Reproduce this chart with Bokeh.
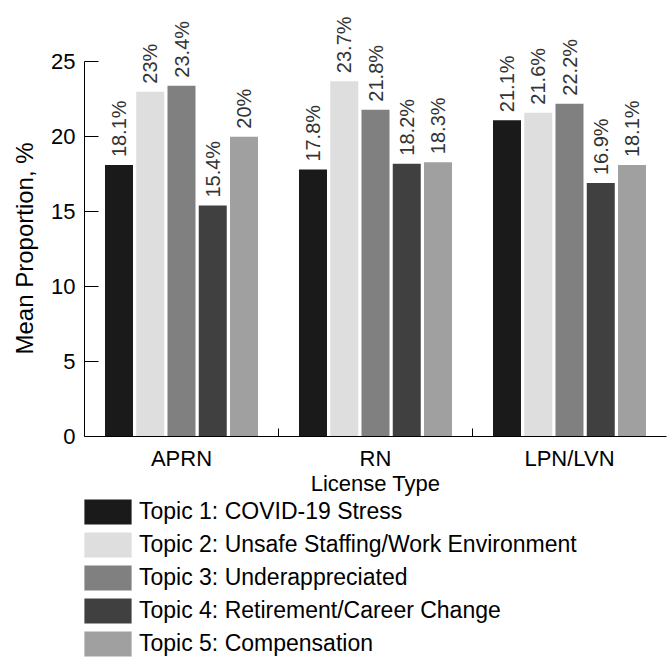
from math import pi
from bokeh.plotting import figure
from bokeh.layouts import column
from bokeh.models import (Range1d, LinearAxis, FixedTicker, Title,
                          SingleIntervalTicker, Legend, ColumnDataSource)
from bokeh.transform import dodge
from bokeh.core.properties import value
from bokeh.embed import file_html
from bokeh.resources import INLINE

# ---------------- data ----------------
licenses = ["APRN", "RN", "LPN/LVN"]
topic_names = [
    "Topic 1: COVID-19 Stress",
    "Topic 2: Unsafe Staffing/Work Environment",
    "Topic 3: Underappreciated",
    "Topic 4: Retirement/Career Change",
    "Topic 5: Compensation",
]
topic1 = [18.1, 17.8, 21.1]
topic2 = [23.0, 23.7, 21.6]
topic3 = [23.4, 21.8, 22.2]
topic4 = [15.4, 18.2, 16.9]
topic5 = [20.0, 18.3, 18.1]
x_title = "License Type"
y_title = "Mean Proportion, %"

# ---------------- styles ----------------
colors = ["#1a1a1a", "#dedede", "#808080", "#404040", "#a0a0a0"]
FONT = "Liberation Sans"
step = 0.1611
bar_w = 0.1443

n = len(licenses)
centers = [i + 0.5 for i in range(n)]       # group centre positions
bounds = [float(i) for i in range(1, n)]    # group boundaries

p = figure(width=672, height=498,
           x_range=Range1d(0, n),
           y_range=Range1d(0, 29.08),
           output_backend="svg", toolbar_location=None,
           x_axis_location=None, y_axis_location=None,
           min_border_left=84, min_border_right=6,
           min_border_top=0, min_border_bottom=56)
p.outline_line_color = None
p.grid.visible = False

# legend panel below the chart (same series, hidden, used as legend proxies)
lg = figure(width=672, height=160, x_range=Range1d(0, n), y_range=Range1d(0, 29.08),
            output_backend="svg", toolbar_location=None,
            x_axis_location=None, y_axis_location=None, min_border=0)
lg.outline_line_color = None
lg.grid.visible = False

series = [topic1, topic2, topic3, topic4, topic5]
items = []
for i, (name, vals, col) in enumerate(zip(topic_names, series, colors)):
    off = (i - (len(series) - 1) / 2) * step
    src = ColumnDataSource(dict(pos=centers, lic=licenses, val=vals,
                                lab=[f"{v:g}%" for v in vals]))
    p.vbar(x=dodge("pos", off), top="val", width=bar_w,
           source=src, fill_color=col, line_color=None)
    p.text(x=dodge("pos", off), y="val", text="lab",
           source=src, angle=pi / 2, text_align="left",
           text_baseline="middle", y_offset=-8,
           text_font=value(FONT), text_font_size="20px",
           text_color="#333333")
    proxy = lg.vbar(x=dodge("pos", off), top="val", width=bar_w,
                    source=src, fill_color=col, line_color=None,
                    visible=False)
    items.append((name, [proxy]))

# y axis
ya = LinearAxis(ticker=SingleIntervalTicker(interval=5), bounds=(0, 25),
                major_tick_in=14, major_tick_out=0,
                minor_tick_in=0, minor_tick_out=0,
                major_label_standoff=9,
                axis_line_color="black", major_tick_line_color="black",
                major_label_text_font=FONT, major_label_text_font_size="22px",
                major_label_text_color="black")
p.add_layout(ya, "left")
p.add_layout(Title(text=y_title, align="left", offset=82,
                   vertical_align="top", standoff=17,
                   text_font=FONT, text_font_size="24px",
                   text_font_style="normal", text_color="black"), "left")

# x axis (group labels at centres, ticks at group boundaries)
xa = LinearAxis(ticker=FixedTicker(ticks=centers, minor_ticks=bounds),
                major_label_overrides={c: l for c, l in zip(centers, licenses)},
                axis_label=x_title,
                major_tick_in=0, major_tick_out=0,
                minor_tick_in=8, minor_tick_out=0,
                major_label_standoff=9, axis_label_standoff=-3,
                axis_line_color="black", minor_tick_line_color="black",
                major_label_text_font=FONT, major_label_text_font_size="22px",
                major_label_text_color="black",
                axis_label_text_font=FONT, axis_label_text_font_size="22px",
                axis_label_text_font_style="normal",
                axis_label_text_color="black")
p.add_layout(xa, "below")

legend = Legend(items=items, location=(-6, -1), orientation="vertical",
                glyph_width=59, glyph_height=31, spacing=2,
                label_standoff=2, padding=0, margin=0,
                border_line_color=None, background_fill_alpha=0,
                inactive_fill_alpha=0,
                label_text_font=FONT, label_text_font_size="23px",
                label_text_color="black", label_height=24,
                label_text_baseline="middle")
lg.add_layout(legend, "center")

layout = column(p, lg, spacing=0)
open("out.html", "w").write(file_html(layout, INLINE))
